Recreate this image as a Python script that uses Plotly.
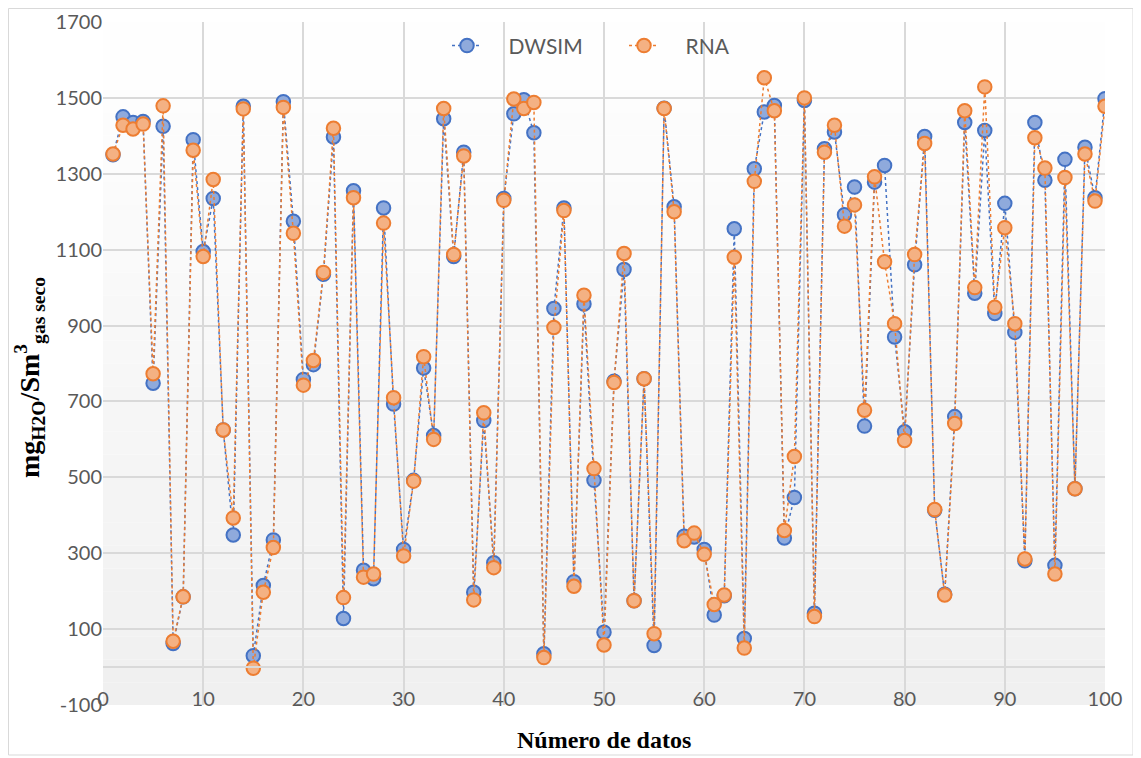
import plotly.graph_objects as go

n_datos = list(range(1, 101))

dwsim = [1350, 1450, 1435, 1438, 748, 1425, 62, 185, 1390, 1095,
         1235, 625, 348, 1478, 30, 215, 335, 1490, 1175, 758,
         797, 1035, 1397, 128, 1255, 255, 233, 1210, 693, 310,
         492, 788, 610, 1445, 1082, 1357, 197, 650, 275, 1235,
         1458, 1495, 1408, 35, 945, 1210, 225, 957, 492, 92,
         753, 1048, 175, 760, 57, 1473, 1213, 345, 343, 310,
         137, 188, 1155, 75, 1313, 1463, 1480, 340, 447, 1493,
         142, 1366, 1410, 1192, 1265, 635, 1278, 1322, 870, 620,
         1060, 1398, 413, 192, 660, 1435, 985, 1414, 932, 1222,
         882, 280, 1435, 1283, 268, 1338, 470, 1370, 1237, 1498]

rna = [1352, 1428, 1418, 1431, 773, 1479, 68, 185, 1362, 1082,
       1285, 625, 393, 1471, -3, 197, 315, 1475, 1143, 743,
       808, 1040, 1420, 183, 1237, 237, 245, 1170, 710, 293,
       490, 818, 600, 1472, 1087, 1347, 177, 670, 262, 1230,
       1497, 1472, 1488, 25, 895, 1203, 213, 980, 523, 58,
       750, 1090, 175, 760, 88, 1472, 1200, 333, 353, 297,
       165, 190, 1080, 50, 1280, 1553, 1466, 360, 555, 1500,
       133, 1357, 1428, 1162, 1218, 677, 1292, 1068, 905, 597,
       1087, 1380, 415, 190, 642, 1466, 1000, 1529, 948, 1158,
       905, 285, 1395, 1315, 245, 1290, 470, 1352, 1228, 1478]

y_ticks = [-100, 100, 300, 500, 700, 900, 1100, 1300, 1500, 1700]
y_tick_text = ["-100", "100", "300", "500", "700", "900", "1100", "1300", "1500", "1700"]
x_ticks = [0, 10, 20, 30, 40, 50, 60, 70, 80, 90, 100]
y_min, y_max = -100, 1700

# page offset (body margin) is 8px
L, T = 95, 14
pw, ph = 1002, 683
W, H = 1133, 750
R, B = W - L - pw, H - T - ph


def px_x(page_x):
    return (page_x - 103) / pw


def px_y(page_y):
    return 1 - (page_y - 22) / ph


fig = go.Figure()
fig.add_trace(go.Scatter(
    x=n_datos, y=dwsim, name="\u00a0\u00a0\u00a0\u00a0DWSIM", mode="lines+markers",
    line=dict(color="#4472C4", width=1.5, dash="dot"),
    marker=dict(size=13.5, color="#8FAADC", line=dict(color="#4472C4", width=2)),
))
fig.add_trace(go.Scatter(
    x=n_datos, y=rna, name="\u00a0\u00a0\u00a0\u00a0RNA", mode="lines+markers",
    line=dict(color="#ED7D31", width=1.5, dash="dot"),
    marker=dict(size=13.5, color="#F4B183", line=dict(color="#ED7D31", width=2)),
))

# background vertical gradient in plot area
shapes = []
steps = 30
for i in range(steps):
    t = i / steps
    g = int(round(255 - (255 - 240) * (1 - t)))
    shapes.append(dict(type="rect", xref="x domain", yref="y domain",
                       x0=0, x1=1, y0=t, y1=(i + 1) / steps,
                       fillcolor=f"rgb({g},{g},{g})", line=dict(width=0),
                       layer="below"))
# outer chart border
shapes.append(dict(type="rect", xref="paper", yref="paper",
                   x0=px_x(8.5), x1=px_x(1133), y0=px_y(755), y1=px_y(8.5),
                   line=dict(color="#D9D9D9", width=1), layer="below"))

annotations = [
    dict(text="<b>Número de datos</b>", xref="paper", yref="paper",
         x=0.5, y=px_y(740), xanchor="center", yanchor="middle",
         showarrow=False,
         font=dict(family="Liberation Serif, Times New Roman, serif", size=24, color="black")),
    dict(text="<b>mg<sub>H2O</sub>/Sm<sup>3</sup><sub>gas seco</sub></b>", xref="paper", yref="paper",
         x=px_x(29), y=px_y(378), xanchor="center", yanchor="middle",
         textangle=-90, showarrow=False,
         font=dict(family="Liberation Serif, Times New Roman, serif", size=28, color="black")),
]

fig.update_layout(
    width=W, height=H,
    margin=dict(l=L, r=R, t=T, b=B, autoexpand=False),
    paper_bgcolor="white", plot_bgcolor="white",
    font=dict(family="Lato, Carlito, Liberation Sans, sans-serif", color="#595959", size=19),
    shapes=shapes,
    annotations=annotations,
    showlegend=True,
    legend=dict(orientation="h", x=px_x(447), xanchor="left", y=0.995, yanchor="top",
                bgcolor="rgba(0,0,0,0)", font=dict(size=21, color="#595959"),
                entrywidth=132, entrywidthmode="pixels"),
    xaxis=dict(range=[0, 100], tickvals=x_ticks, showgrid=True, gridcolor="#D9D9D9",
               gridwidth=1.5, zeroline=False, showline=True, linecolor="#D9D9D9", linewidth=1.5,
               anchor="free", position=(0 - y_min) / (y_max - y_min),
               ticks="outside", ticklen=14, tickcolor="rgba(0,0,0,0)", automargin=False,
               tickfont=dict(size=20, color="#595959")),
    yaxis=dict(range=[y_min, y_max], tickvals=y_ticks, ticktext=y_tick_text,
               showgrid=True, gridcolor="#D9D9D9", gridwidth=1.5, zeroline=False,
               showline=False, ticks="", automargin=False,
               tickfont=dict(size=20, color="#595959")),
)

fig.write_html("out.html")
